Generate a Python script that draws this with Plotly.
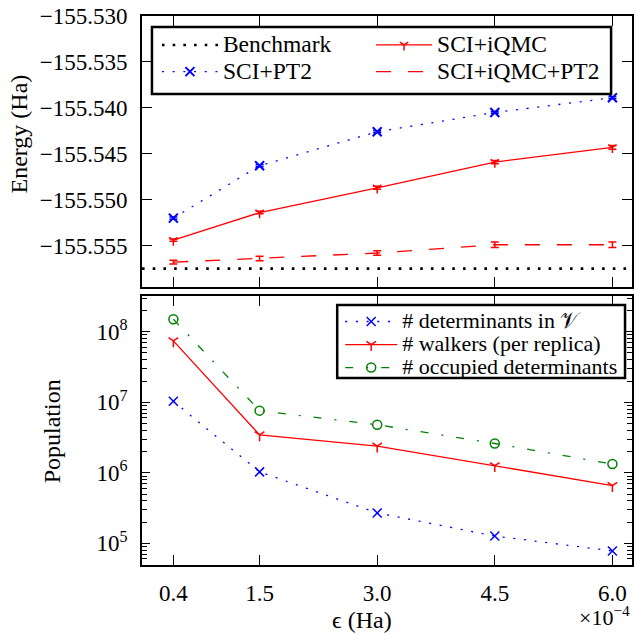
import plotly.graph_objects as go

# ---------------- data ----------------
eps = [0.4, 1.5, 3.0, 4.5, 6.0]            # epsilon in units of 1e-4 Ha
eps_labels = ["0.4", "1.5", "3.0", "4.5", "6.0"]

benchmark = -155.5575
sci_pt2 = [-155.5520, -155.5463, -155.5426, -155.5405, -155.5389]
sci_pt2_err = [0.00012, 0.00012, 0.00010, 0.00010, 0.00010]
sci_iqmc = [-155.5544, -155.5514, -155.5487, -155.5459, -155.5443]
sci_iqmc_err = [0.00012, 0.00014, 0.00016, 0.00018, 0.00020]
sci_iqmc_pt2 = [-155.5568, -155.5564, -155.5558, -155.5549, -155.5549]
sci_iqmc_pt2_err = [0.00020, 0.00025, 0.00025, 0.00030, 0.00030]

n_dets_V = [1.03e7, 1.03e6, 2.7e5, 1.27e5, 7.8e4]
n_walkers = [7.4e7, 3.45e6, 2.39e6, 1.26e6, 6.6e5]
n_occupied = [1.5e8, 7.6e6, 4.8e6, 2.6e6, 1.33e6]

energy_ticks = [-155.530, -155.535, -155.540, -155.545, -155.550, -155.555]
energy_ticktext = ["\u2212155.530", "\u2212155.535", "\u2212155.540",
                   "\u2212155.545", "\u2212155.550", "\u2212155.555"]
pop_ticks = [1e5, 1e6, 1e7, 1e8]
pop_ticktext = ["10<sup>5</sup>", "10<sup>6</sup>", "10<sup>7</sup>", "10<sup>8</sup>"]

X_RANGE = [0.0, 6.25]
E_RANGE = [-155.5595, -155.530]
LOGP_RANGE = [4.693, 8.506]

# ---------------- figure ----------------
FONT = "Liberation Serif"
BLUE = "#0000ff"
RED = "#ff0000"
GREEN = "#008000"


def top_label(s):
    return "<span style='font-size:23.5px'>" + s + "</span>"


def bot_label(s):
    return "<span style='font-size:22px'>" + s + "</span>"


fig = go.Figure()

fig.add_trace(go.Scatter(
    x=X_RANGE, y=[benchmark, benchmark], mode="lines", name=top_label("Benchmark"),
    line=dict(color="black", width=2.6, dash="2.6px,8.1px"),
    legend="legend", xaxis="x", yaxis="y"))

fig.add_trace(go.Scatter(
    x=eps, y=sci_pt2, mode="lines+markers", name=top_label("SCI+PT2"),
    line=dict(color=BLUE, width=1.3, dash="2px,8.7px"),
    marker=dict(symbol="x-thin-open", size=9, line=dict(color=BLUE, width=2)),
    error_y=dict(type="data", array=sci_pt2_err, color=BLUE, thickness=1.5, width=4),
    legend="legend", xaxis="x", yaxis="y"))

fig.add_trace(go.Scatter(
    x=eps, y=sci_iqmc, mode="lines+markers", name=top_label("SCI+iQMC"),
    line=dict(color=RED, width=1.3),
    marker=dict(symbol="y-down-open", size=7, line=dict(color=RED, width=1.5)),
    error_y=dict(type="data", array=sci_iqmc_err, color=RED, thickness=1.5, width=4),
    legend="legend3", xaxis="x", yaxis="y"))

fig.add_trace(go.Scatter(
    x=eps, y=sci_iqmc_pt2, mode="lines", name=top_label("SCI+iQMC+PT2"),
    line=dict(color=RED, width=1.3, dash="15px,17px"),
    error_y=dict(type="data", array=sci_iqmc_pt2_err, color=RED, thickness=1.5, width=4),
    legend="legend3", xaxis="x", yaxis="y"))

fig.add_trace(go.Scatter(
    x=eps, y=n_dets_V, mode="lines+markers", name=bot_label("# determinants in \U0001D4B1"),
    line=dict(color=BLUE, width=1.3, dash="2px,8.7px"),
    marker=dict(symbol="x-thin-open", size=9, line=dict(color=BLUE, width=1.5)),
    legend="legend2", xaxis="x2", yaxis="y2"))

fig.add_trace(go.Scatter(
    x=eps, y=n_walkers, mode="lines+markers", name=bot_label("# walkers (per replica)"),
    line=dict(color=RED, width=1.3),
    marker=dict(symbol="y-down-open", size=8, line=dict(color=RED, width=1.5)),
    legend="legend2", xaxis="x2", yaxis="y2"))

fig.add_trace(go.Scatter(
    x=eps, y=n_occupied, mode="lines+markers", name=bot_label("# occupied determinants"),
    line=dict(color=GREEN, width=1.3, dash="8px,13px,2px,13px"),
    marker=dict(symbol="circle-open", size=9, line=dict(color=GREEN, width=1.5)),
    legend="legend2", xaxis="x2", yaxis="y2"))

minor_log = [m * 10 ** e for e in range(4, 9) for m in range(2, 10)]

axis_common = dict(showline=True, linecolor="black", linewidth=1.6, mirror="allticks",
                   ticks="inside", tickcolor="black", tickwidth=1.2,
                   showgrid=False, zeroline=False,
                   tickfont=dict(family=FONT, size=23, color="black"))

legend_common = dict(xanchor="left", yanchor="top", orientation="v",
                     bgcolor="rgba(0,0,0,0)", borderwidth=0, tracegroupgap=0)

fig.update_layout(
    width=637, height=634,
    margin=dict(l=142, r=3, t=16, b=69),
    paper_bgcolor="white", plot_bgcolor="white",
    font=dict(family=FONT, size=22, color="black"),
    showlegend=True,
    xaxis=dict(domain=[0, 1], anchor="y", range=X_RANGE, tickvals=eps,
               showticklabels=False, ticklen=10, **axis_common),
    yaxis=dict(domain=[0.5064, 1], anchor="x", range=E_RANGE, tickvals=energy_ticks,
               ticktext=energy_ticktext, ticklen=10, ticklabelstandoff=8, **axis_common),
    xaxis2=dict(domain=[0, 1], anchor="y2", range=X_RANGE, tickvals=eps,
                ticktext=eps_labels, ticklen=10, ticklabelstandoff=7, **axis_common),
    yaxis2=dict(domain=[0, 0.49], anchor="x2", type="log", range=LOGP_RANGE,
                tickvals=pop_ticks, ticktext=pop_ticktext, ticklen=8,
                ticklabelstandoff=8,
                minor=dict(ticks="inside", ticklen=5, tickcolor="black", tickwidth=1,
                           tickvals=minor_log),
                **axis_common),
    legend=dict(x=(157 - 142) / 492, y=(565 - 26.6) / 549, itemwidth=56,
                font=dict(family=FONT, size=18.2), **legend_common),
    legend3=dict(x=(372 - 142) / 492, y=(565 - 26.6) / 549, itemwidth=56,
                 font=dict(family=FONT, size=18.2), **legend_common),
    legend2=dict(x=(341 - 142) / 492, y=(565 - 305) / 549, itemwidth=52,
                 font=dict(family=FONT, size=15.4), **legend_common),
    shapes=[
        dict(type="rect", xref="paper", yref="paper", layer="above",
             x0=(152 - 142) / 492, x1=(613 - 142) / 492,
             y0=(565 - 94) / 549, y1=(565 - 27) / 549,
             line=dict(color="black", width=2.5), fillcolor="white"),
        dict(type="rect", xref="paper", yref="paper", layer="above",
             x0=(338 - 142) / 492, x1=(627 - 142) / 492,
             y0=(565 - 378) / 549, y1=(565 - 305) / 549,
             line=dict(color="black", width=2.5), fillcolor="white"),
    ],
    annotations=[
        dict(text="Energy (Ha)", xref="paper", yref="paper", x=-0.25, y=0.785,
             textangle=-90, showarrow=False, xanchor="center", yanchor="middle",
             font=dict(family=FONT, size=24)),
        dict(text="Population", xref="paper", yref="paper", x=-0.183, y=0.244,
             textangle=-90, showarrow=False, xanchor="center", yanchor="middle",
             font=dict(family=FONT, size=24)),
        dict(text="\u03f5 (Ha)", xref="paper", yref="paper", x=0.449, y=-0.1,
             showarrow=False, xanchor="center", yanchor="middle",
             font=dict(family=FONT, size=24)),
        dict(text="\u00d710<sup>\u22124</sup>", xref="paper", yref="paper",
             x=0.943, y=(565 - 616) / 549,
             showarrow=False, xanchor="center", yanchor="middle",
             font=dict(family=FONT, size=22)),
    ],
)

fig.write_html("out.html", config={"displayModeBar": False},
               post_script="document.body.style.margin='0';document.body.style.overflow='hidden';")
